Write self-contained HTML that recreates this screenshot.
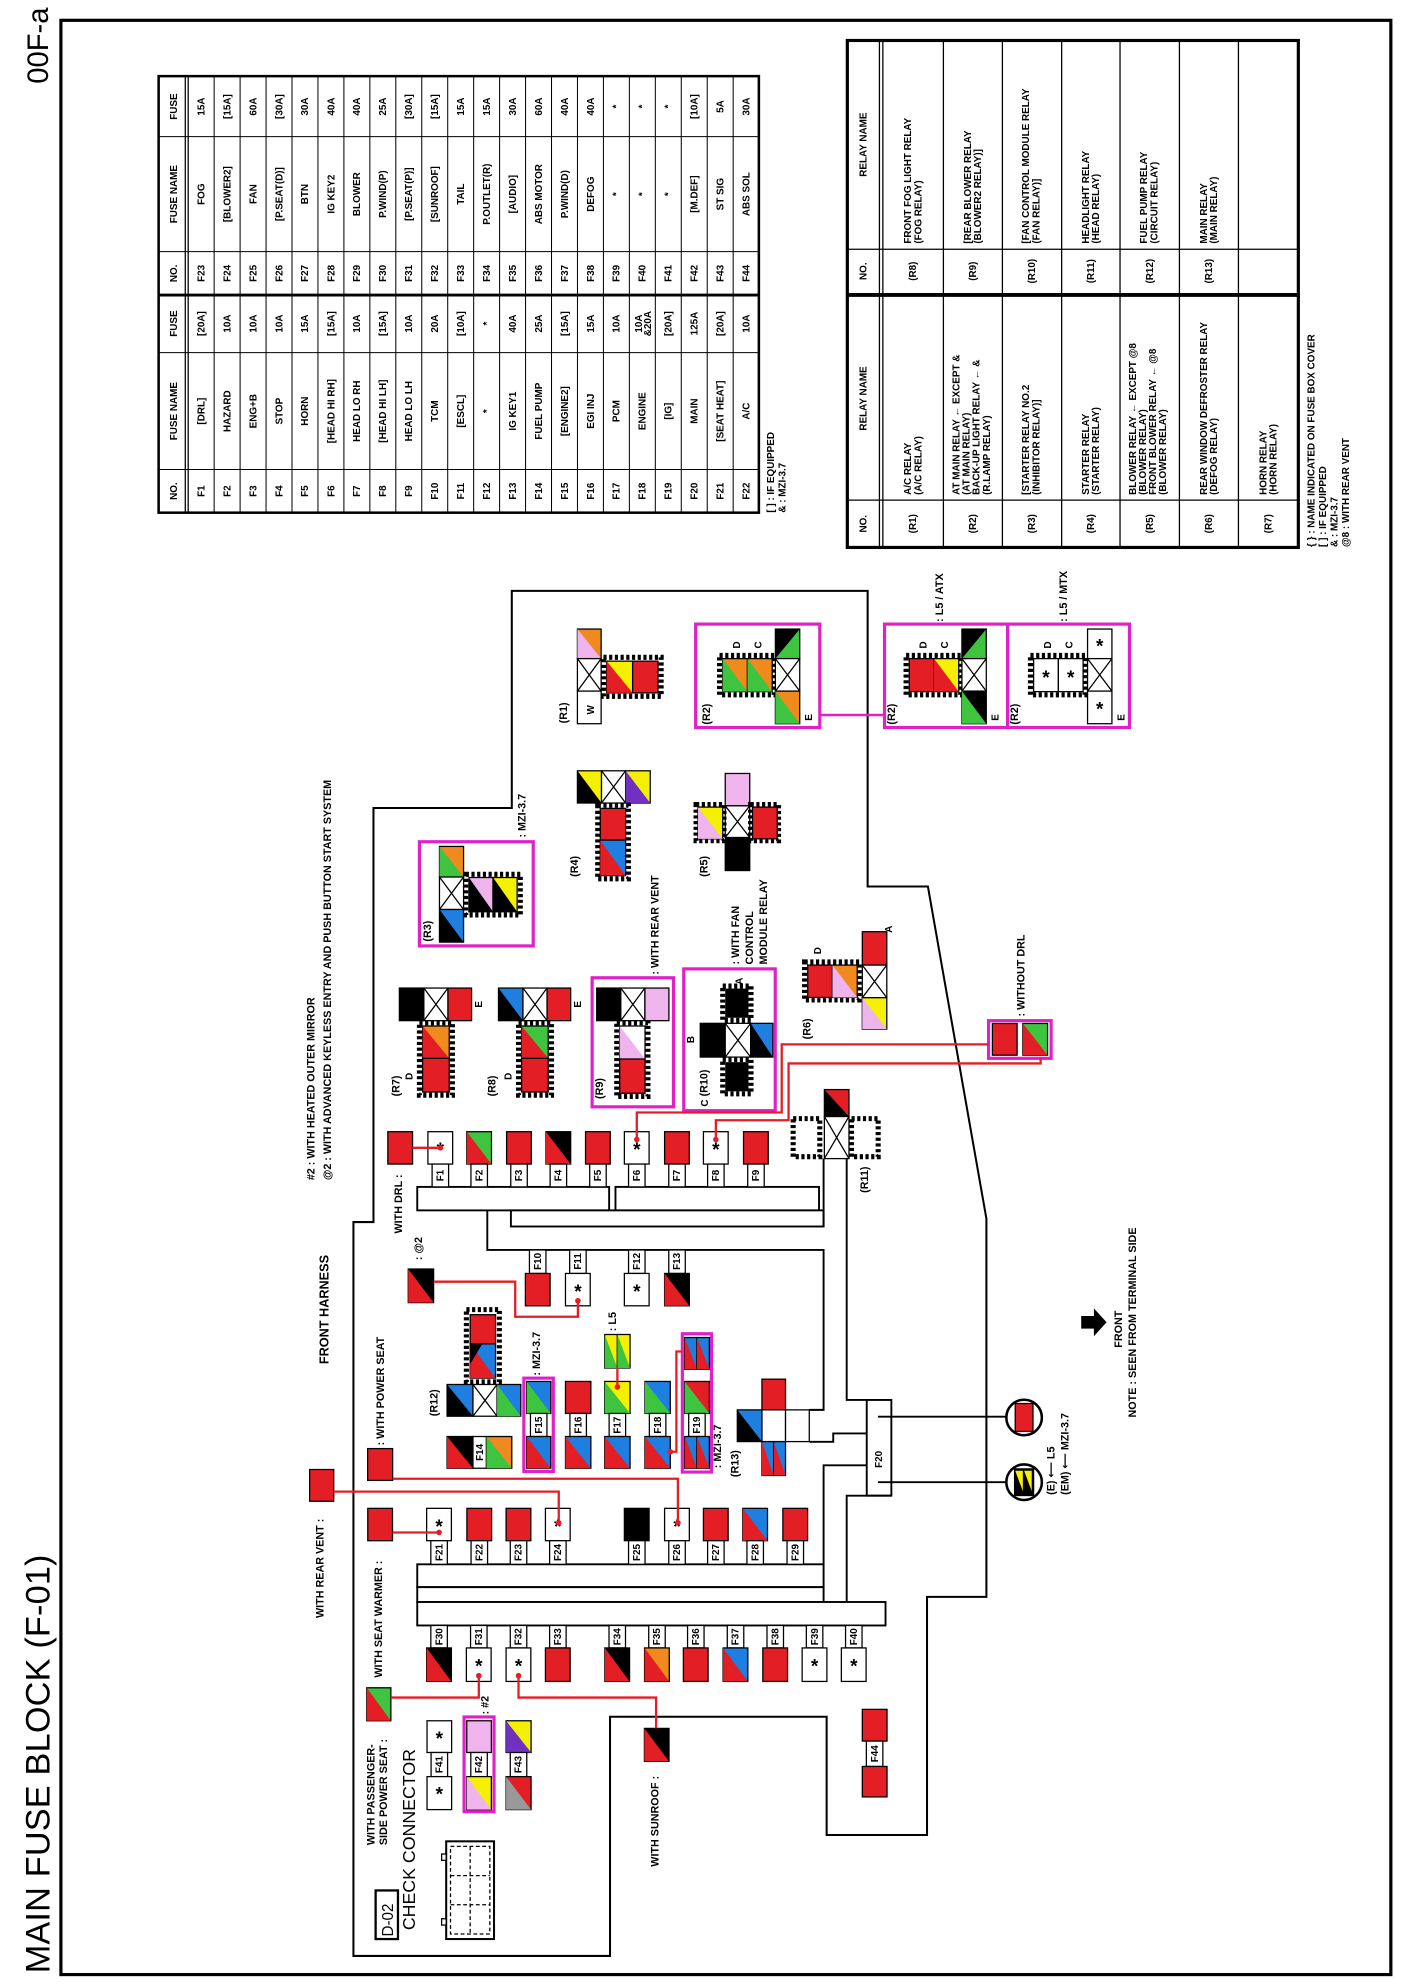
<!DOCTYPE html>
<html><head><meta charset="utf-8"><style>
html,body{margin:0;padding:0;background:#fff}
svg{display:block}
text{font-family:"Liberation Sans","DejaVu Sans",sans-serif;font-weight:bold;fill:#000}
.s{font-size:7.8px}
.m{font-size:8.5px}
.tab{fill:#fff;stroke:#000;stroke-width:1}
.o{fill:none;stroke:#000;stroke-width:1}
.hl{fill:#fff;stroke:#000;stroke-width:4;stroke-dasharray:2.5 2}
.fr{fill:none;stroke:#e020c8;stroke-width:2.5}
.rw{fill:none;stroke:#e31e24;stroke-width:1.8}
.ln{fill:none;stroke:#000;stroke-width:1.5}
.ast{font-size:15px;text-anchor:middle}
</style></head><body>
<svg width="1401" height="1986" viewBox="0 0 1104 1565" preserveAspectRatio="none" xmlns="http://www.w3.org/2000/svg">
<rect x="0" y="0" width="1104" height="1565" fill="#fff"/>
<rect x="48" y="16" width="1048" height="1540" fill="none" stroke="#000" stroke-width="2.5"/>
<text transform="translate(39 1555) rotate(-90)" style="font-size:27px;font-weight:normal" textLength="330">MAIN FUSE BLOCK (F-01)</text>
<text transform="translate(38 66) rotate(-90)" style="font-size:23px;font-weight:normal">00F-a</text>

<!-- FUSE TABLE -->
<g>
<rect x="125" y="60" width="473" height="344" fill="#fff" stroke="#000" stroke-width="2"/>
<line x1="146" y1="60" x2="146" y2="404" stroke="#000" stroke-width="1"/>
<line x1="148.3" y1="60" x2="148.3" y2="404" stroke="#000" stroke-width="1"/>
<g stroke="#000" stroke-width="0.8">
<line x1="168.75" y1="60" x2="168.75" y2="404"/><line x1="189.2" y1="60" x2="189.2" y2="404"/><line x1="209.65" y1="60" x2="209.65" y2="404"/><line x1="230.1" y1="60" x2="230.1" y2="404"/><line x1="250.55" y1="60" x2="250.55" y2="404"/><line x1="271" y1="60" x2="271" y2="404"/><line x1="291.45" y1="60" x2="291.45" y2="404"/><line x1="311.9" y1="60" x2="311.9" y2="404"/><line x1="332.35" y1="60" x2="332.35" y2="404"/><line x1="352.8" y1="60" x2="352.8" y2="404"/><line x1="373.25" y1="60" x2="373.25" y2="404"/><line x1="393.7" y1="60" x2="393.7" y2="404"/><line x1="414.15" y1="60" x2="414.15" y2="404"/><line x1="434.6" y1="60" x2="434.6" y2="404"/><line x1="455.05" y1="60" x2="455.05" y2="404"/><line x1="475.5" y1="60" x2="475.5" y2="404"/><line x1="495.95" y1="60" x2="495.95" y2="404"/><line x1="516.4" y1="60" x2="516.4" y2="404"/><line x1="536.85" y1="60" x2="536.85" y2="404"/><line x1="557.3" y1="60" x2="557.3" y2="404"/><line x1="577.75" y1="60" x2="577.75" y2="404"/>
<line x1="125" y1="107.7" x2="598" y2="107.7"/><line x1="125" y1="198.3" x2="598" y2="198.3"/><line x1="125" y1="277.9" x2="598" y2="277.9"/><line x1="125" y1="370" x2="598" y2="370"/>
</g>
<line x1="125" y1="232.5" x2="598" y2="232.5" stroke="#000" stroke-width="2.2"/>
<g class="s" text-anchor="middle">
<g transform="translate(139.5 0)"><text transform="translate(0 387) rotate(-90)">NO.</text><text transform="translate(0 324) rotate(-90)">FUSE NAME</text><text transform="translate(0 255) rotate(-90)">FUSE</text><text transform="translate(0 215.4) rotate(-90)">NO.</text><text transform="translate(0 153) rotate(-90)">FUSE NAME</text><text transform="translate(0 84) rotate(-90)">FUSE</text></g>
<g transform="translate(161.1 0)"><text transform="translate(0 387) rotate(-90)">F1</text><text transform="translate(0 324) rotate(-90)">[DRL]</text><text transform="translate(0 255) rotate(-90)">[20A]</text><text transform="translate(0 215.4) rotate(-90)">F23</text><text transform="translate(0 153) rotate(-90)">FOG</text><text transform="translate(0 84) rotate(-90)">15A</text></g>
<g transform="translate(181.6 0)"><text transform="translate(0 387) rotate(-90)">F2</text><text transform="translate(0 324) rotate(-90)">HAZARD</text><text transform="translate(0 255) rotate(-90)">10A</text><text transform="translate(0 215.4) rotate(-90)">F24</text><text transform="translate(0 153) rotate(-90)">[BLOWER2]</text><text transform="translate(0 84) rotate(-90)">[15A]</text></g>
<g transform="translate(202 0)"><text transform="translate(0 387) rotate(-90)">F3</text><text transform="translate(0 324) rotate(-90)">ENG+B</text><text transform="translate(0 255) rotate(-90)">10A</text><text transform="translate(0 215.4) rotate(-90)">F25</text><text transform="translate(0 153) rotate(-90)">FAN</text><text transform="translate(0 84) rotate(-90)">60A</text></g>
<g transform="translate(222.5 0)"><text transform="translate(0 387) rotate(-90)">F4</text><text transform="translate(0 324) rotate(-90)">STOP</text><text transform="translate(0 255) rotate(-90)">10A</text><text transform="translate(0 215.4) rotate(-90)">F26</text><text transform="translate(0 153) rotate(-90)">[P.SEAT(D)]</text><text transform="translate(0 84) rotate(-90)">[30A]</text></g>
<g transform="translate(242.9 0)"><text transform="translate(0 387) rotate(-90)">F5</text><text transform="translate(0 324) rotate(-90)">HORN</text><text transform="translate(0 255) rotate(-90)">15A</text><text transform="translate(0 215.4) rotate(-90)">F27</text><text transform="translate(0 153) rotate(-90)">BTN</text><text transform="translate(0 84) rotate(-90)">30A</text></g>
<g transform="translate(263.4 0)"><text transform="translate(0 387) rotate(-90)">F6</text><text transform="translate(0 324) rotate(-90)">[HEAD HI RH]</text><text transform="translate(0 255) rotate(-90)">[15A]</text><text transform="translate(0 215.4) rotate(-90)">F28</text><text transform="translate(0 153) rotate(-90)">IG KEY2</text><text transform="translate(0 84) rotate(-90)">40A</text></g>
<g transform="translate(283.8 0)"><text transform="translate(0 387) rotate(-90)">F7</text><text transform="translate(0 324) rotate(-90)">HEAD LO RH</text><text transform="translate(0 255) rotate(-90)">10A</text><text transform="translate(0 215.4) rotate(-90)">F29</text><text transform="translate(0 153) rotate(-90)">BLOWER</text><text transform="translate(0 84) rotate(-90)">40A</text></g>
<g transform="translate(304.3 0)"><text transform="translate(0 387) rotate(-90)">F8</text><text transform="translate(0 324) rotate(-90)">[HEAD HI LH]</text><text transform="translate(0 255) rotate(-90)">[15A]</text><text transform="translate(0 215.4) rotate(-90)">F30</text><text transform="translate(0 153) rotate(-90)">P.WIND(P)</text><text transform="translate(0 84) rotate(-90)">25A</text></g>
<g transform="translate(324.7 0)"><text transform="translate(0 387) rotate(-90)">F9</text><text transform="translate(0 324) rotate(-90)">HEAD LO LH</text><text transform="translate(0 255) rotate(-90)">10A</text><text transform="translate(0 215.4) rotate(-90)">F31</text><text transform="translate(0 153) rotate(-90)">[P.SEAT(P)]</text><text transform="translate(0 84) rotate(-90)">[30A]</text></g>
<g transform="translate(345.2 0)"><text transform="translate(0 387) rotate(-90)">F10</text><text transform="translate(0 324) rotate(-90)">TCM</text><text transform="translate(0 255) rotate(-90)">20A</text><text transform="translate(0 215.4) rotate(-90)">F32</text><text transform="translate(0 153) rotate(-90)">[SUNROOF]</text><text transform="translate(0 84) rotate(-90)">[15A]</text></g>
<g transform="translate(365.6 0)"><text transform="translate(0 387) rotate(-90)">F11</text><text transform="translate(0 324) rotate(-90)">[ESCL]</text><text transform="translate(0 255) rotate(-90)">[10A]</text><text transform="translate(0 215.4) rotate(-90)">F33</text><text transform="translate(0 153) rotate(-90)">TAIL</text><text transform="translate(0 84) rotate(-90)">15A</text></g>
<g transform="translate(386.1 0)"><text transform="translate(0 387) rotate(-90)">F12</text><text transform="translate(0 324) rotate(-90)">*</text><text transform="translate(0 255) rotate(-90)">*</text><text transform="translate(0 215.4) rotate(-90)">F34</text><text transform="translate(0 153) rotate(-90)">P.OUTLET(R)</text><text transform="translate(0 84) rotate(-90)">15A</text></g>
<g transform="translate(406.5 0)"><text transform="translate(0 387) rotate(-90)">F13</text><text transform="translate(0 324) rotate(-90)">IG KEY1</text><text transform="translate(0 255) rotate(-90)">40A</text><text transform="translate(0 215.4) rotate(-90)">F35</text><text transform="translate(0 153) rotate(-90)">[AUDIO]</text><text transform="translate(0 84) rotate(-90)">30A</text></g>
<g transform="translate(427 0)"><text transform="translate(0 387) rotate(-90)">F14</text><text transform="translate(0 324) rotate(-90)">FUEL PUMP</text><text transform="translate(0 255) rotate(-90)">25A</text><text transform="translate(0 215.4) rotate(-90)">F36</text><text transform="translate(0 153) rotate(-90)">ABS MOTOR</text><text transform="translate(0 84) rotate(-90)">60A</text></g>
<g transform="translate(447.4 0)"><text transform="translate(0 387) rotate(-90)">F15</text><text transform="translate(0 324) rotate(-90)">[ENGINE2]</text><text transform="translate(0 255) rotate(-90)">[15A]</text><text transform="translate(0 215.4) rotate(-90)">F37</text><text transform="translate(0 153) rotate(-90)">P.WIND(D)</text><text transform="translate(0 84) rotate(-90)">40A</text></g>
<g transform="translate(467.9 0)"><text transform="translate(0 387) rotate(-90)">F16</text><text transform="translate(0 324) rotate(-90)">EGI INJ</text><text transform="translate(0 255) rotate(-90)">15A</text><text transform="translate(0 215.4) rotate(-90)">F38</text><text transform="translate(0 153) rotate(-90)">DEFOG</text><text transform="translate(0 84) rotate(-90)">40A</text></g>
<g transform="translate(488.3 0)"><text transform="translate(0 387) rotate(-90)">F17</text><text transform="translate(0 324) rotate(-90)">PCM</text><text transform="translate(0 255) rotate(-90)">10A</text><text transform="translate(0 215.4) rotate(-90)">F39</text><text transform="translate(0 153) rotate(-90)">*</text><text transform="translate(0 84) rotate(-90)">*</text></g>
<g transform="translate(508.8 0)"><text transform="translate(0 387) rotate(-90)">F18</text><text transform="translate(0 324) rotate(-90)">ENGINE</text><text transform="translate(-3 255) rotate(-90)">10A</text><text transform="translate(4 255) rotate(-90)">&amp;20A</text><text transform="translate(0 215.4) rotate(-90)">F40</text><text transform="translate(0 153) rotate(-90)">*</text><text transform="translate(0 84) rotate(-90)">*</text></g>
<g transform="translate(529.2 0)"><text transform="translate(0 387) rotate(-90)">F19</text><text transform="translate(0 324) rotate(-90)">[IG]</text><text transform="translate(0 255) rotate(-90)">[20A]</text><text transform="translate(0 215.4) rotate(-90)">F41</text><text transform="translate(0 153) rotate(-90)">*</text><text transform="translate(0 84) rotate(-90)">*</text></g>
<g transform="translate(549.7 0)"><text transform="translate(0 387) rotate(-90)">F20</text><text transform="translate(0 324) rotate(-90)">MAIN</text><text transform="translate(0 255) rotate(-90)">125A</text><text transform="translate(0 215.4) rotate(-90)">F42</text><text transform="translate(0 153) rotate(-90)">[M.DEF]</text><text transform="translate(0 84) rotate(-90)">[10A]</text></g>
<g transform="translate(570.1 0)"><text transform="translate(0 387) rotate(-90)">F21</text><text transform="translate(0 324) rotate(-90)">[SEAT HEAT]</text><text transform="translate(0 255) rotate(-90)">[20A]</text><text transform="translate(0 215.4) rotate(-90)">F43</text><text transform="translate(0 153) rotate(-90)">ST SIG</text><text transform="translate(0 84) rotate(-90)">5A</text></g>
<g transform="translate(590.6 0)"><text transform="translate(0 387) rotate(-90)">F22</text><text transform="translate(0 324) rotate(-90)">A/C</text><text transform="translate(0 255) rotate(-90)">10A</text><text transform="translate(0 215.4) rotate(-90)">F44</text><text transform="translate(0 153) rotate(-90)">ABS SOL</text><text transform="translate(0 84) rotate(-90)">30A</text></g>
</g>
<text class="s" transform="translate(610 404) rotate(-90)">[ ] : IF EQUIPPED</text>
<text class="s" transform="translate(619 404) rotate(-90)">&amp; : MZI-3.7</text>
</g>

<!-- RELAY TABLE -->
<g>
<rect x="667.7" y="31.9" width="355.4" height="399.5" fill="#fff" stroke="#000" stroke-width="2.5"/>
<g stroke="#000" stroke-width="1">
<line x1="693" y1="31.9" x2="693" y2="431.4"/><line x1="695.7" y1="31.9" x2="695.7" y2="431.4"/>
<line x1="743.4" y1="31.9" x2="743.4" y2="431.4"/><line x1="789.9" y1="31.9" x2="789.9" y2="431.4"/><line x1="836.6" y1="31.9" x2="836.6" y2="431.4"/><line x1="882.6" y1="31.9" x2="882.6" y2="431.4"/><line x1="929.4" y1="31.9" x2="929.4" y2="431.4"/><line x1="975.9" y1="31.9" x2="975.9" y2="431.4"/>
<line x1="667.7" y1="196.4" x2="1023.1" y2="196.4"/><line x1="667.7" y1="394.1" x2="1023.1" y2="394.1"/>
</g>
<line x1="667.7" y1="232.4" x2="1023.1" y2="232.4" stroke="#000" stroke-width="3"/>
<g class="s">
<g text-anchor="middle"><text transform="translate(683 412.7) rotate(-90)">NO.</text><text transform="translate(683 314) rotate(-90)">RELAY NAME</text><text transform="translate(683 213.7) rotate(-90)">NO.</text><text transform="translate(683 114) rotate(-90)">RELAY NAME</text>
<text transform="translate(722 412.7) rotate(-90)">(R1)</text><text transform="translate(769 412.7) rotate(-90)">(R2)</text><text transform="translate(815.5 412.7) rotate(-90)">(R3)</text><text transform="translate(862 412.7) rotate(-90)">(R4)</text><text transform="translate(908.5 412.7) rotate(-90)">(R5)</text><text transform="translate(955 412.7) rotate(-90)">(R6)</text><text transform="translate(1002 412.7) rotate(-90)">(R7)</text>
<text transform="translate(722 213.7) rotate(-90)">(R8)</text><text transform="translate(769 213.7) rotate(-90)">(R9)</text><text transform="translate(815.5 213.7) rotate(-90)">(R10)</text><text transform="translate(862 213.7) rotate(-90)">(R11)</text><text transform="translate(908.5 213.7) rotate(-90)">(R12)</text><text transform="translate(955 213.7) rotate(-90)">(R13)</text></g>
<text transform="translate(718 390) rotate(-90)">A/C RELAY</text><text transform="translate(726 390) rotate(-90)">(A/C RELAY)</text>
<text transform="translate(756 390) rotate(-90)">AT MAIN RELAY ← EXCEPT &amp;</text><text transform="translate(764 390) rotate(-90)">(AT MAIN RELAY)</text><text transform="translate(772 390) rotate(-90)">BACK-UP LIGHT RELAY ← &amp;</text><text transform="translate(780 390) rotate(-90)">(R.LAMP RELAY)</text>
<text transform="translate(811 390) rotate(-90)">[STARTER RELAY NO.2</text><text transform="translate(819 390) rotate(-90)">(INHIBITOR RELAY)]</text>
<text transform="translate(858 390) rotate(-90)">STARTER RELAY</text><text transform="translate(866 390) rotate(-90)">(STARTER RELAY)</text>
<text transform="translate(895 390) rotate(-90)">BLOWER RELAY ← EXCEPT @8</text><text transform="translate(903 390) rotate(-90)">(BLOWER RELAY)</text><text transform="translate(911 390) rotate(-90)">FRONT BLOWER RELAY ← @8</text><text transform="translate(919 390) rotate(-90)">(BLOWER RELAY)</text>
<text transform="translate(951 390) rotate(-90)">REAR WINDOW DEFROSTER RELAY</text><text transform="translate(959 390) rotate(-90)">(DEFOG RELAY)</text>
<text transform="translate(998 390) rotate(-90)">HORN RELAY</text><text transform="translate(1006 390) rotate(-90)">(HORN RELAY)</text>
<text transform="translate(718 192) rotate(-90)">FRONT FOG LIGHT RELAY</text><text transform="translate(726 192) rotate(-90)">(FOG RELAY)</text>
<text transform="translate(765 192) rotate(-90)">[REAR BLOWER RELAY</text><text transform="translate(773 192) rotate(-90)">(BLOWER2 RELAY)]</text>
<text transform="translate(811 192) rotate(-90)">[FAN CONTROL MODULE RELAY</text><text transform="translate(819 192) rotate(-90)">(FAN RELAY)]</text>
<text transform="translate(858 192) rotate(-90)">HEADLIGHT RELAY</text><text transform="translate(866 192) rotate(-90)">(HEAD RELAY)</text>
<text transform="translate(904 192) rotate(-90)">FUEL PUMP RELAY</text><text transform="translate(912 192) rotate(-90)">(CIRCUIT RELAY)</text>
<text transform="translate(951 192) rotate(-90)">MAIN RELAY</text><text transform="translate(959 192) rotate(-90)">(MAIN RELAY)</text>
<text transform="translate(1036 431) rotate(-90)">{ } : NAME INDICATED ON FUSE BOX COVER</text>
<text transform="translate(1045 431) rotate(-90)">[ ] : IF EQUIPPED</text>
<text transform="translate(1054 431) rotate(-90)">&amp; : MZI-3.7</text>
<text transform="translate(1063 431) rotate(-90)">@8 : WITH REAR VENT</text>
</g>
</g>

<!-- HOUSING -->
<polygon points="403.3,465.6 683.7,465.6 683.7,698.6 731.2,698.6 777.3,960.4 777.3,1258.4 730.5,1258.4 730.5,1446 651.4,1446 651.4,1352.8 480.7,1352.8 480.7,1541.3 278.5,1541.3 278.5,963 294.3,963 294.3,636.7 403.3,636.7" fill="none" stroke="#000" stroke-width="1.6"/>
<g class="ln">
<rect x="328.8" y="935.3" width="151.2" height="18.5" fill="#fff"/>
<rect x="485" y="935.3" width="160.4" height="18.5" fill="#fff"/>
<rect x="402.6" y="953.8" width="246.4" height="12.7" fill="#fff"/>
<polyline points="384,953.8 384,985 649,985 649,1111 637.7,1111"/>
<polyline points="649,913 649,966.5"/>
<polyline points="667.2,913 667.2,1103.2 702.4,1103.2"/>
<rect x="683" y="1103.2" width="19.4" height="75.4" fill="#fff"/>
<polyline points="702.4,1178.6 667.2,1178.6 667.2,1262.4"/>
<polyline points="637.7,1136.2 656.6,1136.2 656.6,1129.6 683,1129.6"/>
<polyline points="683,1154.7 649,1154.7 649,1232.7"/>
<rect x="328.8" y="1232.7" width="320.2" height="18" fill="#fff"/>
<rect x="328.8" y="1250.7" width="320.2" height="11.7" fill="#fff"/>
<rect x="328.8" y="1262.4" width="369" height="18.5" fill="#fff"/>
<line x1="691.8" y1="1116.4" x2="795" y2="1116.4"/>
<line x1="691.8" y1="1168" x2="795" y2="1168"/>
</g>
<text class="s" transform="translate(695 1150) rotate(-90)" text-anchor="middle">F20</text>

<!-- F1-F9 row -->
<g>
<rect x="305.6" y="891.8" width="19.5" height="25.5" fill="#e31e24" stroke="#000"/>
<rect x="337.2" y="891.8" width="19.5" height="25.5" fill="#fff" stroke="#000"/>
<rect x="367.8" y="891.8" width="19.5" height="25.5" fill="#3ec43e" stroke="#000"/><polygon points="367.8,891.8 367.8,917.3 387.3,917.3" fill="#e31e24"/>
<rect x="399.2" y="891.8" width="19.5" height="25.5" fill="#e31e24" stroke="#000"/>
<rect x="430.2" y="891.8" width="19.5" height="25.5" fill="#000" stroke="#000"/><polygon points="430.2,891.8 430.2,917.3 449.7,917.3" fill="#e31e24"/>
<rect x="461.4" y="891.8" width="19.5" height="25.5" fill="#e31e24" stroke="#000"/>
<rect x="492" y="891.8" width="19.5" height="25.5" fill="#fff" stroke="#000"/>
<rect x="523.7" y="891.8" width="19.5" height="25.5" fill="#e31e24" stroke="#000"/>
<rect x="554.3" y="891.8" width="19.5" height="25.5" fill="#fff" stroke="#000"/>
<rect x="585.9" y="891.8" width="19.5" height="25.5" fill="#e31e24" stroke="#000"/>
<text class="ast" x="347" y="911">*</text><text class="ast" x="501.8" y="911">*</text><text class="ast" x="564.1" y="911">*</text>
<g class="tab"><rect x="340.5" y="917.3" width="13" height="18"/><rect x="371.1" y="917.3" width="13" height="18"/><rect x="402.5" y="917.3" width="13" height="18"/><rect x="433.5" y="917.3" width="13" height="18"/><rect x="464.7" y="917.3" width="13" height="18"/><rect x="495.3" y="917.3" width="13" height="18"/><rect x="527" y="917.3" width="13" height="18"/><rect x="557.6" y="917.3" width="13" height="18"/><rect x="589.2" y="917.3" width="13" height="18"/></g>
<g class="s" text-anchor="middle"><text transform="translate(349.5 926.3) rotate(-90)">F1</text><text transform="translate(380.1 926.3) rotate(-90)">F2</text><text transform="translate(411.5 926.3) rotate(-90)">F3</text><text transform="translate(442.5 926.3) rotate(-90)">F4</text><text transform="translate(473.7 926.3) rotate(-90)">F5</text><text transform="translate(504.3 926.3) rotate(-90)">F6</text><text transform="translate(536 926.3) rotate(-90)">F7</text><text transform="translate(566.6 926.3) rotate(-90)">F8</text><text transform="translate(598.2 926.3) rotate(-90)">F9</text></g>
</g>
<!-- F10-F13 -->
<g>
<g class="tab"><rect x="417.2" y="985" width="13" height="18.5"/><rect x="448.9" y="985" width="13" height="18.5"/><rect x="495.3" y="985" width="13" height="18.5"/><rect x="527" y="985" width="13" height="18.5"/></g>
<g class="s" text-anchor="middle"><text transform="translate(426.2 994) rotate(-90)">F10</text><text transform="translate(457.9 994) rotate(-90)">F11</text><text transform="translate(504.3 994) rotate(-90)">F12</text><text transform="translate(536 994) rotate(-90)">F13</text></g>
<rect x="414" y="1003.5" width="19.5" height="25.5" fill="#e31e24" stroke="#000"/>
<rect x="445.6" y="1003.5" width="19.5" height="25.5" fill="#fff" stroke="#000"/>
<rect x="492" y="1003.5" width="19.5" height="25.5" fill="#fff" stroke="#000"/>
<rect x="523.7" y="1003.5" width="19.5" height="25.5" fill="#000" stroke="#000"/><polygon points="523.7,1003.5 523.7,1029 543.2,1029" fill="#e31e24"/>
<text class="ast" x="455.4" y="1023">*</text><text class="ast" x="501.8" y="1023">*</text>
</g>
<rect x="321.7" y="1000" width="20" height="26.5" fill="#000" stroke="#000"/><polygon points="321.7,1000 321.7,1026.5 341.7,1026.5" fill="#e31e24"/>

<!-- R12 -->
<rect class="hl" x="367.5" y="1032" width="26" height="57"/>
<rect x="370.5" y="1036" width="20" height="23" fill="#e31e24" stroke="#000"/>
<rect x="370.5" y="1059" width="20" height="27" fill="#1e7fe0" stroke="#000"/><polygon points="370.5,1059 370.5,1086 390.5,1086" fill="#e31e24"/><polygon points="370.5,1059 370.5,1075 380,1059" fill="#000"/>
<rect x="352.3" y="1091" width="20.4" height="25" fill="#1e7fe0" stroke="#000"/><polygon points="352.3,1091 352.3,1116 372.7,1116" fill="#000"/>
<rect x="372.7" y="1091" width="19" height="25" fill="#fff" stroke="#000"/><path d="M372.7 1091L391.7 1116M391.7 1091L372.7 1116" class="o"/>
<rect x="391.7" y="1091" width="18.7" height="25" fill="#1e7fe0" stroke="#000"/><polygon points="391.7,1091 391.7,1116 410.4,1116" fill="#3ec43e"/>
<!-- F14 -->
<rect x="352.3" y="1132" width="20.4" height="25" fill="#000" stroke="#000"/><polygon points="352.3,1132 352.3,1157 372.7,1157" fill="#e31e24"/>
<rect class="tab" x="372.7" y="1132" width="10.6" height="25"/>
<text class="s" transform="translate(380.6 1144.5) rotate(-90)" text-anchor="middle">F14</text>
<rect x="383.3" y="1132" width="20" height="25" fill="#f08a1e" stroke="#000"/><polygon points="383.3,1132 383.3,1157 403.3,1157" fill="#3ec43e"/>
<!-- F15-F19 -->
<rect class="fr" x="412.8" y="1086" width="23.2" height="73.5"/>
<rect class="fr" x="537.7" y="1051" width="22.9" height="109"/>
<g>
<rect x="415" y="1088.6" width="19" height="25.2" fill="#1e7fe0" stroke="#000"/><polygon points="415,1088.6 415,1113.8 434,1113.8" fill="#3ec43e"/>
<rect x="445.6" y="1088.6" width="20" height="25.2" fill="#e31e24" stroke="#000"/>
<rect x="476.5" y="1088.6" width="20" height="25.2" fill="#f5f000" stroke="#000"/><polygon points="476.5,1088.6 476.5,1113.8 496.5,1113.8" fill="#3ec43e"/>
<rect x="508.2" y="1088.6" width="20" height="25.2" fill="#1e7fe0" stroke="#000"/><polygon points="508.2,1088.6 508.2,1113.8 528.2,1113.8" fill="#3ec43e"/>
<rect x="539.5" y="1088.6" width="19.5" height="25.2" fill="#e31e24" stroke="#000"/><polygon points="539.5,1088.6 539.5,1113.8 559,1113.8" fill="#3ec43e"/>
<g class="tab"><rect x="418" y="1113.8" width="13" height="18.2"/><rect x="449.1" y="1113.8" width="13" height="18.2"/><rect x="480" y="1113.8" width="13" height="18.2"/><rect x="511.7" y="1113.8" width="13" height="18.2"/><rect x="542.7" y="1113.8" width="13" height="18.2"/></g>
<g class="s" text-anchor="middle"><text transform="translate(427 1123) rotate(-90)">F15</text><text transform="translate(458.1 1123) rotate(-90)">F16</text><text transform="translate(489 1123) rotate(-90)">F17</text><text transform="translate(520.7 1123) rotate(-90)">F18</text><text transform="translate(551.7 1123) rotate(-90)">F19</text></g>
<rect x="415" y="1132" width="19" height="25" fill="#1e7fe0" stroke="#000"/><polygon points="415,1132 415,1157 434,1157" fill="#e31e24"/>
<rect x="445.6" y="1132" width="20" height="25" fill="#1e7fe0" stroke="#000"/><polygon points="445.6,1132 445.6,1157 465.6,1157" fill="#e31e24"/>
<rect x="476.5" y="1132" width="20" height="25" fill="#1e7fe0" stroke="#000"/><polygon points="476.5,1132 476.5,1157 496.5,1157" fill="#e31e24"/>
<rect x="508.2" y="1132" width="20" height="25" fill="#1e7fe0" stroke="#000"/><polygon points="508.2,1132 508.2,1157 528.2,1157" fill="#e31e24"/>
<rect x="539.5" y="1132" width="9.7" height="25" fill="#1e7fe0" stroke="#000"/><polygon points="539.5,1132 539.5,1157 549.2,1157" fill="#e31e24"/>
<rect x="549.2" y="1132" width="9.8" height="25" fill="#1e7fe0" stroke="#000"/><polygon points="549.2,1132 549.2,1157 559,1157" fill="#e31e24"/>
<rect x="539.5" y="1054" width="9.7" height="25" fill="#1e7fe0" stroke="#000"/><polygon points="539.5,1054 539.5,1079 549.2,1079" fill="#e31e24"/>
<rect x="549.2" y="1054" width="9.8" height="25" fill="#1e7fe0" stroke="#000"/><polygon points="549.2,1054 549.2,1079 559,1079" fill="#e31e24"/>
<rect x="476.5" y="1051.6" width="10" height="26.4" fill="#f5f000" stroke="#000"/><polygon points="476.5,1051.6 476.5,1078 486.5,1078" fill="#3ec43e"/>
<rect x="486.5" y="1051.6" width="10" height="26.4" fill="#f5f000" stroke="#000"/><polygon points="486.5,1051.6 486.5,1078 496.5,1078" fill="#3ec43e"/>
</g>
<!-- R13 -->
<rect x="600.4" y="1086.8" width="18.6" height="24.2" fill="#e31e24" stroke="#000"/>
<rect x="600.4" y="1111" width="18.6" height="25" fill="#fff" stroke="#000"/>
<rect x="619" y="1111" width="18.7" height="25" fill="#fff" stroke="#000"/>
<rect x="581" y="1111" width="19.4" height="25" fill="#1e7fe0" stroke="#000"/><polygon points="581,1111 581,1136 600.4,1136" fill="#000"/>
<rect x="600.4" y="1136" width="9.3" height="26.7" fill="#1e7fe0" stroke="#000"/><polygon points="600.4,1136 600.4,1162.7 609.7,1162.7" fill="#e31e24"/>
<rect x="609.7" y="1136" width="9.3" height="26.7" fill="#1e7fe0" stroke="#000"/><polygon points="609.7,1136 609.7,1162.7 619,1162.7" fill="#e31e24"/>

<rect x="289.7" y="1141.5" width="19.7" height="25.1" fill="#e31e24" stroke="#000"/>
<rect x="244" y="1158" width="19" height="25" fill="#e31e24" stroke="#000"/>
<rect x="289.8" y="1188.6" width="19.5" height="25.5" fill="#e31e24" stroke="#000"/>

<!-- F21-F29 -->
<g>
<rect x="336.2" y="1188.6" width="19.5" height="25.5" fill="#fff" stroke="#000"/>
<rect x="367.9" y="1188.6" width="19.5" height="25.5" fill="#e31e24" stroke="#000"/>
<rect x="398.8" y="1188.6" width="19.5" height="25.5" fill="#e31e24" stroke="#000"/>
<rect x="429.8" y="1188.6" width="19.5" height="25.5" fill="#fff" stroke="#000"/>
<rect x="492" y="1188.6" width="19.5" height="25.5" fill="#000" stroke="#000"/>
<rect x="523.7" y="1188.6" width="19.5" height="25.5" fill="#fff" stroke="#000"/>
<rect x="554.3" y="1188.6" width="19.5" height="25.5" fill="#e31e24" stroke="#000"/>
<rect x="585.3" y="1188.6" width="19.5" height="25.5" fill="#1e7fe0" stroke="#000"/><polygon points="585.3,1188.6 585.3,1214.1 604.8,1214.1" fill="#e31e24"/>
<rect x="616.9" y="1188.6" width="19.5" height="25.5" fill="#e31e24" stroke="#000"/>
<text class="ast" x="346" y="1208">*</text><text class="ast" x="439.6" y="1208">*</text><text class="ast" x="533.5" y="1208">*</text>
<g class="tab"><rect x="339.5" y="1214.1" width="13" height="18.6"/><rect x="371.2" y="1214.1" width="13" height="18.6"/><rect x="402.1" y="1214.1" width="13" height="18.6"/><rect x="433.1" y="1214.1" width="13" height="18.6"/><rect x="495.3" y="1214.1" width="13" height="18.6"/><rect x="527" y="1214.1" width="13" height="18.6"/><rect x="557.6" y="1214.1" width="13" height="18.6"/><rect x="588.6" y="1214.1" width="13" height="18.6"/><rect x="620.2" y="1214.1" width="13" height="18.6"/></g>
<g class="s" text-anchor="middle"><text transform="translate(348.5 1223.4) rotate(-90)">F21</text><text transform="translate(380.2 1223.4) rotate(-90)">F22</text><text transform="translate(411.1 1223.4) rotate(-90)">F23</text><text transform="translate(442.1 1223.4) rotate(-90)">F24</text><text transform="translate(504.3 1223.4) rotate(-90)">F25</text><text transform="translate(536 1223.4) rotate(-90)">F26</text><text transform="translate(566.6 1223.4) rotate(-90)">F27</text><text transform="translate(597.6 1223.4) rotate(-90)">F28</text><text transform="translate(629.2 1223.4) rotate(-90)">F29</text></g>
</g>
<!-- F30-F40 -->
<g>
<g class="tab"><rect x="339.5" y="1280.9" width="13" height="17.7"/><rect x="370.8" y="1280.9" width="13" height="17.7"/><rect x="402.1" y="1280.9" width="13" height="17.7"/><rect x="433.1" y="1280.9" width="13" height="17.7"/><rect x="479.9" y="1280.9" width="13" height="17.7"/><rect x="511.2" y="1280.9" width="13" height="17.7"/><rect x="541.8" y="1280.9" width="13" height="17.7"/><rect x="573.1" y="1280.9" width="13" height="17.7"/><rect x="604.4" y="1280.9" width="13" height="17.7"/><rect x="635.4" y="1280.9" width="13" height="17.7"/><rect x="666.3" y="1280.9" width="13" height="17.7"/></g>
<g class="s" text-anchor="middle"><text transform="translate(348.5 1289.8) rotate(-90)">F30</text><text transform="translate(379.8 1289.8) rotate(-90)">F31</text><text transform="translate(411.1 1289.8) rotate(-90)">F32</text><text transform="translate(442.1 1289.8) rotate(-90)">F33</text><text transform="translate(488.9 1289.8) rotate(-90)">F34</text><text transform="translate(520.2 1289.8) rotate(-90)">F35</text><text transform="translate(550.8 1289.8) rotate(-90)">F36</text><text transform="translate(582.1 1289.8) rotate(-90)">F37</text><text transform="translate(613.4 1289.8) rotate(-90)">F38</text><text transform="translate(644.4 1289.8) rotate(-90)">F39</text><text transform="translate(675.3 1289.8) rotate(-90)">F40</text></g>
<rect x="336.2" y="1298.6" width="19.5" height="26.4" fill="#000" stroke="#000"/><polygon points="336.2,1298.6 336.2,1325 355.7,1325" fill="#e31e24"/>
<rect x="367.5" y="1298.6" width="19.5" height="26.4" fill="#fff" stroke="#000"/>
<rect x="398.8" y="1298.6" width="19.5" height="26.4" fill="#fff" stroke="#000"/>
<rect x="429.8" y="1298.6" width="19.5" height="26.4" fill="#e31e24" stroke="#000"/>
<rect x="476.6" y="1298.6" width="19.5" height="26.4" fill="#000" stroke="#000"/><polygon points="476.6,1298.6 476.6,1325 496.1,1325" fill="#e31e24"/>
<rect x="507.9" y="1298.6" width="19.5" height="26.4" fill="#f08a1e" stroke="#000"/><polygon points="507.9,1298.6 507.9,1325 527.4,1325" fill="#e31e24"/>
<rect x="538.5" y="1298.6" width="19.5" height="26.4" fill="#e31e24" stroke="#000"/>
<rect x="569.8" y="1298.6" width="19.5" height="26.4" fill="#1e7fe0" stroke="#000"/><polygon points="569.8,1298.6 569.8,1325 589.3,1325" fill="#e31e24"/>
<rect x="601.1" y="1298.6" width="19.5" height="26.4" fill="#e31e24" stroke="#000"/>
<rect x="632.1" y="1298.6" width="19.5" height="26.4" fill="#fff" stroke="#000"/>
<rect x="663" y="1298.6" width="19.5" height="26.4" fill="#fff" stroke="#000"/>
<text class="ast" x="377.3" y="1318">*</text><text class="ast" x="408.6" y="1318">*</text><text class="ast" x="641.9" y="1318">*</text><text class="ast" x="672.8" y="1318">*</text>
</g>
<rect x="289" y="1330" width="19" height="26" fill="#3ec43e" stroke="#000"/><polygon points="289,1330 289,1356 308,1356" fill="#e31e24"/>
<rect x="507.8" y="1362" width="19.4" height="26" fill="#000" stroke="#000"/><polygon points="507.8,1362 507.8,1388 527.2,1388" fill="#e31e24"/>
<rect x="336.5" y="1356" width="19.4" height="25" fill="#fff" stroke="#000"/><rect class="tab" x="339.7" y="1381" width="13" height="19"/><rect x="336.5" y="1400" width="19.4" height="26" fill="#fff" stroke="#000"/>
<text class="ast" x="346.2" y="1375">*</text><text class="ast" x="346.2" y="1419">*</text>
<rect class="fr" x="365.7" y="1353" width="23.6" height="74.6"/>
<rect x="367.8" y="1356" width="19.4" height="25" fill="#f0b4ec" stroke="#000"/><rect class="tab" x="371" y="1381" width="13" height="19"/><rect x="367.8" y="1400" width="19.4" height="26" fill="#f5f000" stroke="#000"/><polygon points="367.8,1400 367.8,1426 387.2,1426" fill="#f0b4ec"/>
<rect x="398.8" y="1356" width="19.7" height="25" fill="#f5f000" stroke="#000"/><polygon points="398.8,1356 398.8,1381 418.5,1381" fill="#7030c0"/><rect class="tab" x="402.1" y="1381" width="13" height="19"/><rect x="398.8" y="1400" width="19.7" height="26" fill="#e31e24" stroke="#000"/><polygon points="398.8,1400 398.8,1426 418.5,1426" fill="#999"/>
<g class="s" text-anchor="middle"><text transform="translate(348.7 1390.5) rotate(-90)">F41</text><text transform="translate(380 1390.5) rotate(-90)">F42</text><text transform="translate(411.1 1390.5) rotate(-90)">F43</text></g>
<rect x="679.5" y="1347" width="19.5" height="25" fill="#e31e24" stroke="#000"/><rect class="tab" x="682.7" y="1372" width="13" height="20"/><rect x="679.5" y="1392" width="19.5" height="24" fill="#e31e24" stroke="#000"/>
<text class="s" transform="translate(691.7 1382) rotate(-90)" text-anchor="middle">F44</text>
<rect x="296" y="1489.7" width="17.6" height="38.3" fill="#fff" stroke="#000" stroke-width="1.8"/>
<text transform="translate(309.5 1526) rotate(-90)" style="font-size:12px;font-weight:normal">D-02</text>
<text transform="translate(327 1521) rotate(-90)" style="font-size:14px;font-weight:normal">CHECK CONNECTOR</text>
<rect x="351.6" y="1451" width="37.7" height="77" fill="#fff" stroke="#000" stroke-width="1.6"/>
<rect x="355" y="1455" width="31" height="69" fill="none" stroke="#000" stroke-dasharray="3 2"/>
<path d="M370.5 1455V1524M355 1478H386M355 1501H386" stroke="#000" stroke-dasharray="3 2" fill="none"/>
<rect x="348" y="1461" width="3.6" height="5" fill="#fff" stroke="#000"/><rect x="348" y="1512" width="3.6" height="5" fill="#fff" stroke="#000"/>

<!-- R1 -->
<rect x="455" y="495.7" width="18.7" height="23.3" fill="#f08a1e" stroke="#000"/><polygon points="455,495.7 455,519 473.7,519" fill="#f0b4ec"/>
<rect x="455" y="519" width="18.7" height="25.6" fill="#fff" stroke="#000"/><path d="M455 519L473.7 544.6M473.7 519L455 544.6" class="o"/>
<rect x="455" y="544.6" width="18.7" height="25.7" fill="#fff" stroke="#000"/>
<rect class="hl" x="475.5" y="518" width="45.5" height="30.7"/>
<rect x="478" y="521" width="20.5" height="25" fill="#f5f000" stroke="#000"/><polygon points="478,521 478,546 498.5,546" fill="#e31e24"/>
<rect x="498.5" y="521" width="20" height="25" fill="#e31e24" stroke="#000"/>
<!-- R2 -->
<rect class="fr" x="548.2" y="491.8" width="97.8" height="81.5"/>
<rect class="hl" x="567" y="516.5" width="43" height="31"/>
<rect x="569.5" y="519" width="19.5" height="26" fill="#f08a1e" stroke="#000"/><polygon points="569.5,519 569.5,545 589,545" fill="#3ec43e"/>
<rect x="589" y="519" width="19.5" height="26" fill="#f08a1e" stroke="#000"/><polygon points="589,519 589,545 608.5,545" fill="#3ec43e"/>
<rect x="611" y="495.7" width="19.2" height="23.3" fill="#3ec43e" stroke="#000"/><polygon points="611,495.7 611,519 630.2,495.7" fill="#000"/>
<rect x="611" y="519" width="19.2" height="25.6" fill="#fff" stroke="#000"/><path d="M611 519L630.2 544.6M630.2 519L611 544.6" class="o"/>
<rect x="611" y="544.6" width="19.2" height="25.7" fill="#f08a1e" stroke="#000"/><polygon points="611,544.6 611,570.3 630.2,570.3" fill="#3ec43e"/>
<line x1="646" y1="563.4" x2="697" y2="563.4" stroke="#e020c8" stroke-width="2"/>
<rect class="fr" x="697" y="491.8" width="97" height="81.5"/>
<rect class="hl" x="714" y="516.5" width="43" height="31"/>
<rect x="716.5" y="519" width="19.5" height="26" fill="#e31e24" stroke="#000"/>
<rect x="736" y="519" width="19.5" height="26" fill="#f5f000" stroke="#000"/><polygon points="736,519 736,545 755.5,545" fill="#e31e24"/>
<rect x="758" y="495.7" width="19.2" height="23.3" fill="#3ec43e" stroke="#000"/><polygon points="758,495.7 758,519 777.2,495.7" fill="#000"/>
<rect x="758" y="519" width="19.2" height="25.6" fill="#fff" stroke="#000"/><path d="M758 519L777.2 544.6M777.2 519L758 544.6" class="o"/>
<rect x="758" y="544.6" width="19.2" height="25.7" fill="#000" stroke="#000"/><polygon points="758,544.6 758,570.3 777.2,570.3" fill="#3ec43e"/>
<rect class="fr" x="794" y="491.8" width="96" height="81.5"/>
<rect class="hl" x="812" y="516.5" width="43" height="31"/>
<rect x="814.5" y="519" width="19.5" height="26" fill="#fff" stroke="#000"/><rect x="834" y="519" width="19.5" height="26" fill="#fff" stroke="#000"/>
<rect x="857" y="495.7" width="19.2" height="23.3" fill="#fff" stroke="#000"/>
<rect x="857" y="519" width="19.2" height="25.6" fill="#fff" stroke="#000"/><path d="M857 519L876.2 544.6M876.2 519L857 544.6" class="o"/>
<rect x="857" y="544.6" width="19.2" height="25.7" fill="#fff" stroke="#000"/>
<text class="ast" x="824.2" y="539">*</text><text class="ast" x="843.7" y="539">*</text><text class="ast" x="866.6" y="514">*</text><text class="ast" x="866.6" y="564">*</text>
<!-- R3 -->
<rect class="fr" x="330.5" y="663.3" width="89.7" height="82.1"/>
<rect x="346.3" y="667" width="19" height="24.1" fill="#f08a1e" stroke="#000"/><polygon points="346.3,667 346.3,691.1 365.3,691.1" fill="#3ec43e"/>
<rect x="346.3" y="691.1" width="19" height="25.6" fill="#fff" stroke="#000"/><path d="M346.3 691.1L365.3 716.7M365.3 691.1L346.3 716.7" class="o"/>
<rect x="346.3" y="716.7" width="19" height="25.7" fill="#1e7fe0" stroke="#000"/><polygon points="346.3,716.7 346.3,742.4 365.3,742.4" fill="#000"/>
<rect class="hl" x="367" y="689" width="43" height="32"/>
<rect x="369.5" y="691.5" width="19" height="27" fill="#f0b4ec" stroke="#000"/><polygon points="369.5,691.5 369.5,718.5 388.5,718.5" fill="#000"/>
<rect x="388.5" y="691.5" width="19" height="27" fill="#f5f000" stroke="#000"/><polygon points="388.5,691.5 388.5,718.5 407.5,718.5" fill="#000"/>
<!-- R4 -->
<rect x="455" y="607.4" width="19" height="25.4" fill="#f5f000" stroke="#000"/><polygon points="455,607.4 455,632.8 474,632.8" fill="#000"/>
<rect x="474" y="607.4" width="19" height="25.4" fill="#fff" stroke="#000"/><path d="M474 607.4L493 632.8M493 607.4L474 632.8" class="o"/>
<rect x="493" y="607.4" width="19.4" height="25.4" fill="#f5f000" stroke="#000"/><polygon points="493,607.4 493,632.8 512.4,632.8" fill="#7030c0"/>
<rect class="hl" x="471" y="634.5" width="24.2" height="58"/>
<rect x="473" y="637" width="20" height="25" fill="#e31e24" stroke="#000"/>
<rect x="473" y="662" width="20" height="28" fill="#1e7fe0" stroke="#000"/><polygon points="473,662 473,690 493,690" fill="#e31e24"/>
<!-- R5 -->
<rect x="571.5" y="609.5" width="19.3" height="25.5" fill="#f0b4ec" stroke="#000"/>
<rect x="571.5" y="635" width="19.3" height="25" fill="#fff" stroke="#000"/><path d="M571.5 635L590.8 660M590.8 635L571.5 660" class="o"/>
<rect x="571.5" y="660" width="19.3" height="26" fill="#000" stroke="#000"/>
<rect class="hl" x="548.5" y="634" width="22" height="28.5"/><rect x="550" y="636" width="19.5" height="25" fill="#f5f000" stroke="#000"/><polygon points="550,636 550,661 569.5,661" fill="#f0b4ec"/>
<rect class="hl" x="591.5" y="634" width="22" height="28.5"/><rect x="593" y="636" width="19.5" height="25" fill="#e31e24" stroke="#000"/>
<!-- R6 -->
<rect class="hl" x="634" y="758" width="43" height="30"/>
<rect x="636.5" y="760.5" width="19.5" height="25.5" fill="#e31e24" stroke="#000"/>
<rect x="656" y="760.5" width="19.5" height="25.5" fill="#f08a1e" stroke="#000"/><polygon points="656,760.5 656,786 675.5,786" fill="#f0b4ec"/>
<rect x="679.5" y="734.2" width="19.3" height="26.3" fill="#e31e24" stroke="#000"/>
<rect x="679.5" y="760.5" width="19.3" height="25.7" fill="#fff" stroke="#000"/><path d="M679.5 760.5L698.8 786.2M698.8 760.5L679.5 786.2" class="o"/>
<rect x="679.5" y="786.2" width="19.3" height="24.8" fill="#f5f000" stroke="#000"/><polygon points="679.5,786.2 679.5,811 698.8,811" fill="#f0b4ec"/>
<!-- R7 -->
<rect x="314.7" y="778.6" width="19.3" height="25.7" fill="#000" stroke="#000"/>
<rect x="334" y="778.6" width="19" height="25.7" fill="#fff" stroke="#000"/><path d="M334 778.6L353 804.3M353 778.6L334 804.3" class="o"/>
<rect x="353" y="778.6" width="18.6" height="25.7" fill="#e31e24" stroke="#000"/>
<rect class="hl" x="330.5" y="806" width="26" height="57"/>
<rect x="333" y="808.5" width="21" height="25.5" fill="#f08a1e" stroke="#000"/><polygon points="333,808.5 333,834 354,834" fill="#e31e24"/>
<rect x="333" y="834" width="21" height="26.5" fill="#e31e24" stroke="#000"/>
<!-- R8 -->
<rect x="392.8" y="778.6" width="19.3" height="25.7" fill="#1e7fe0" stroke="#000"/><polygon points="392.8,778.6 392.8,804.3 412.1,804.3" fill="#000"/>
<rect x="412.1" y="778.6" width="19" height="25.7" fill="#fff" stroke="#000"/><path d="M412.1 778.6L431.1 804.3M431.1 778.6L412.1 804.3" class="o"/>
<rect x="431.1" y="778.6" width="18.6" height="25.7" fill="#e31e24" stroke="#000"/>
<rect class="hl" x="408.6" y="806" width="26" height="57"/>
<rect x="411" y="808.5" width="21" height="25.5" fill="#3ec43e" stroke="#000"/><polygon points="411,808.5 411,834 432,834" fill="#e31e24"/>
<rect x="411" y="834" width="21" height="26.5" fill="#e31e24" stroke="#000"/>
<!-- R9 -->
<rect class="fr" x="466.6" y="770.5" width="64.1" height="101.7"/>
<rect x="470.2" y="778.6" width="19" height="25.7" fill="#000" stroke="#000"/>
<rect x="489.2" y="778.6" width="19" height="25.7" fill="#fff" stroke="#000"/><path d="M489.2 778.6L508.2 804.3M508.2 778.6L489.2 804.3" class="o"/>
<rect x="508.2" y="778.6" width="18.9" height="25.7" fill="#f0b4ec" stroke="#000"/>
<rect class="hl" x="486" y="806" width="24.6" height="58"/>
<rect x="488.3" y="808.5" width="20" height="26" fill="#fff" stroke="#000"/><polygon points="488.3,808.5 488.3,834.5 508.3,834.5" fill="#f0b4ec"/>
<rect x="488.3" y="834.5" width="20" height="27" fill="#e31e24" stroke="#000"/>
<!-- R10 -->
<rect class="fr" x="538.8" y="763.5" width="72.1" height="111.7"/>
<rect class="hl" x="569.5" y="777" width="22.3" height="27"/><rect x="571.5" y="779" width="18.3" height="23" fill="#000"/>
<rect x="551.8" y="806.4" width="19.7" height="26.6" fill="#000" stroke="#000"/>
<rect x="571.5" y="806.4" width="20" height="26.6" fill="#fff" stroke="#000"/><path d="M571.5 806.4L591.5 833M591.5 806.4L571.5 833" class="o"/>
<rect x="591.5" y="806.4" width="17.5" height="26.6" fill="#1e7fe0" stroke="#000"/><polygon points="591.5,806.4 591.5,833 609,833" fill="#000"/>
<rect class="hl" x="569.5" y="835" width="22.3" height="27"/><rect x="571.5" y="837" width="18.3" height="23" fill="#000"/>
<!-- WITHOUT DRL -->
<rect class="fr" x="779" y="804.3" width="49.3" height="29.7"/>
<rect x="782" y="806.5" width="19.5" height="25" fill="#e31e24" stroke="#000"/>
<rect x="806" y="806.5" width="19.5" height="25" fill="#3ec43e" stroke="#000"/><polygon points="806,806.5 806,831.5 825.5,831.5" fill="#e31e24"/>
<!-- R11 -->
<rect class="hl" x="625" y="881.5" width="21" height="30"/>
<rect x="649.6" y="879.8" width="19.4" height="33.2" fill="#fff" stroke="#000"/><path d="M649.6 879.8L669 913M669 879.8L649.6 913" class="o"/>
<rect class="hl" x="671" y="881.5" width="21" height="30"/>
<rect x="649.6" y="858.6" width="19.4" height="21.2" fill="#e31e24" stroke="#000"/><polygon points="649.6,858.6 649.6,879.8 669,879.8" fill="#000"/>
<!-- circles -->
<circle cx="807" cy="1117" r="14" fill="#fff" stroke="#000" stroke-width="2"/>
<rect x="800" y="1106" width="14" height="22" fill="#e31e24" stroke="#000"/>
<circle cx="807" cy="1168" r="14" fill="#fff" stroke="#000" stroke-width="2"/>
<rect x="799" y="1157" width="16" height="22" fill="#000"/>
<polygon points="800,1159 806,1159 806,1175" fill="#f5f000"/><polygon points="807,1159 813,1159 813,1175" fill="#f5f000"/>
<polygon points="852,1037 862,1037 862,1031 872,1042 862,1053 862,1047 852,1047" fill="#000"/>

<!-- red wires -->
<g class="rw">
<polyline points="325,904.5 347,904.5"/>
<polyline points="779,823 616,823 616,876.7 501.8,876.7 501.8,898"/>
<polyline points="820,834 820,838 621.4,838 621.4,882.8 564.1,882.8 564.1,898"/>
<polyline points="341.7,1010 406,1010 406,1037.6 455.4,1037.6 455.4,1025"/>
<polyline points="486.5,1078 486.5,1093"/>
<polyline points="528.2,1144 533,1144 533,1065 537.7,1065"/>
<polyline points="309.4,1165.3 534.2,1165.3 534.2,1200"/>
<polyline points="263,1175.4 440.3,1175.4 440.3,1200"/>
<polyline points="309.3,1207.6 346,1207.6"/>
<polyline points="308,1337.7 377.3,1337.7 377.3,1320.5"/>
<polyline points="408.6,1320.5 408.6,1337.7 517,1337.7 517,1362"/>
</g>
<g fill="#e31e24"><circle cx="347" cy="904.5" r="2.2"/><circle cx="501.8" cy="898" r="2.2"/><circle cx="564.1" cy="898" r="2.2"/><circle cx="455.4" cy="1025" r="2.2"/><circle cx="486.5" cy="1093" r="2.2"/><circle cx="528.2" cy="1144" r="2.2"/><circle cx="534.2" cy="1200" r="2.2"/><circle cx="440.3" cy="1200" r="2.2"/><circle cx="346" cy="1207.6" r="2.2"/><circle cx="377.3" cy="1320.5" r="2.2"/><circle cx="408.6" cy="1320.5" r="2.2"/></g>

<!-- labels -->
<g class="m">
<text transform="translate(259 1075) rotate(-90)" style="font-size:10px">FRONT HARNESS</text>
<text transform="translate(248 930) rotate(-90)">#2 : WITH HEATED OUTER MIRROR</text>
<text transform="translate(261 930) rotate(-90)">@2 : WITH ADVANCED KEYLESS ENTRY AND PUSH BUTTON START SYSTEM</text>
<text transform="translate(255 1275) rotate(-90)">WITH REAR VENT :</text>
<text transform="translate(301 1322) rotate(-90)">WITH SEAT WARMER :</text>
<text transform="translate(295 1454) rotate(-90)">WITH PASSENGER-</text>
<text transform="translate(305 1454) rotate(-90)">SIDE POWER SEAT :</text>
<text transform="translate(519 1471) rotate(-90)">WITH SUNROOF :</text>
<text transform="translate(385 1351) rotate(-90)">: #2</text>
<text transform="translate(316.6 972) rotate(-90)">WITH DRL :</text>
<text transform="translate(332.5 993) rotate(-90)">: @2</text>
<text transform="translate(302.6 1139) rotate(-90)">: WITH POWER SEAT</text>
<text transform="translate(425.7 1084) rotate(-90)">: MZI-3.7</text>
<text transform="translate(485.5 1049) rotate(-90)">: L5</text>
<text transform="translate(568.2 1157) rotate(-90)">: MZI-3.7</text>
<text transform="translate(344.8 1116) rotate(-90)">(R12)</text>
<text transform="translate(582 1164) rotate(-90)">(R13)</text>
<text transform="translate(684 940) rotate(-90)">(R11)</text>
<text transform="translate(831 1178) rotate(-90)">(E) ⟵ L5</text>
<text transform="translate(842 1178) rotate(-90)">(EM) ⟵ MZI-3.7</text>
<text transform="translate(884 1062) rotate(-90)">FRONT</text>
<text transform="translate(895 1117) rotate(-90)">NOTE : SEEN FROM TERMINAL SIDE</text>
<text transform="translate(446.8 570) rotate(-90)">(R1)</text>
<text transform="translate(559.3 571) rotate(-90)">(R2)</text>
<text transform="translate(705.3 571) rotate(-90)">(R2)</text>
<text transform="translate(802 571) rotate(-90)">(R2)</text>
<text transform="translate(743 490) rotate(-90)">: L5 / ATX</text>
<text transform="translate(841 490) rotate(-90)">: L5 / MTX</text>
<text transform="translate(339.5 742) rotate(-90)">(R3)</text>
<text transform="translate(414 660) rotate(-90)">: MZI-3.7</text>
<text transform="translate(455.6 691) rotate(-90)">(R4)</text>
<text transform="translate(519 768) rotate(-90)">: WITH REAR VENT</text>
<text transform="translate(557.6 691) rotate(-90)">(R5)</text>
<text transform="translate(582.2 760) rotate(-90)">: WITH FAN</text>
<text transform="translate(593.5 760) rotate(-90)">CONTROL</text>
<text transform="translate(604.5 760) rotate(-90)">MODULE RELAY</text>
<text transform="translate(638.5 819) rotate(-90)">(R6)</text>
<text transform="translate(314.8 864) rotate(-90)">(R7)</text>
<text transform="translate(390.5 864) rotate(-90)">(R8)</text>
<text transform="translate(475.3 866) rotate(-90)">(R9)</text>
<text transform="translate(557.6 864) rotate(-90)">(R10)</text>
<text transform="translate(807.4 801) rotate(-90)">: WITHOUT DRL</text>
</g>
<g class="s">
<text transform="translate(325 851) rotate(-90)">D</text><text transform="translate(403 851) rotate(-90)">D</text>
<text transform="translate(380 794) rotate(-90)">E</text><text transform="translate(458 794) rotate(-90)">E</text>
<text transform="translate(583 511) rotate(-90)">D</text><text transform="translate(600 511) rotate(-90)">C</text><text transform="translate(640 568) rotate(-90)">E</text>
<text transform="translate(730 511) rotate(-90)">D</text><text transform="translate(747 511) rotate(-90)">C</text><text transform="translate(787 568) rotate(-90)">E</text>
<text transform="translate(828 511) rotate(-90)">D</text><text transform="translate(845 511) rotate(-90)">C</text><text transform="translate(886 568) rotate(-90)">E</text>
<text transform="translate(647 752) rotate(-90)">D</text><text transform="translate(703 735) rotate(-90)">A</text>
<text transform="translate(585 776) rotate(-90)">A</text><text transform="translate(547 822) rotate(-90)">B</text><text transform="translate(558 872) rotate(-90)">C</text>
<text transform="translate(468 563) rotate(-90)">W</text>
</g>
</svg>
</body></html>
